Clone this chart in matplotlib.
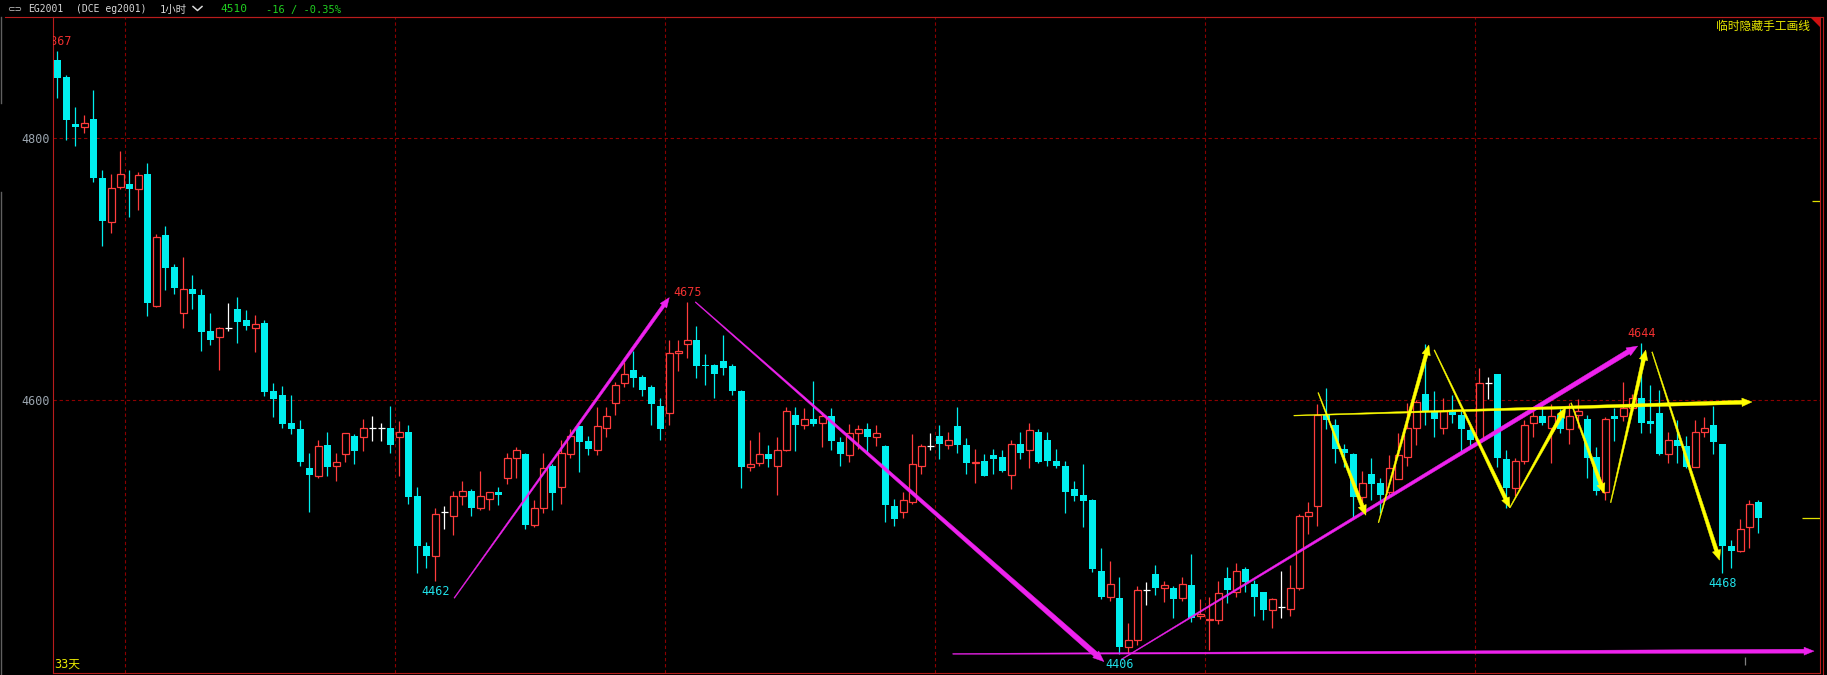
import numpy as np
import matplotlib
matplotlib.use("Agg")
import matplotlib.pyplot as plt
from matplotlib.patches import Polygon, Rectangle
from matplotlib.lines import Line2D

# hourly candles EG2001
opens = [4860, 4847, 4811, 4809, 4815, 4770, 4736, 4763, 4765, 4761,
         4773, 4672, 4726, 4702, 4667, 4685, 4680, 4653, 4648, 4655,
         4670, 4661, 4655, 4659, 4607, 4604, 4583, 4578, 4548, 4542,
         4566, 4550, 4559, 4573, 4572, 4579, 4579, 4579, 4572, 4576,
         4527, 4489, 4481, 4515, 4512, 4527, 4531, 4518, 4525, 4530,
         4541, 4556, 4559, 4505, 4518, 4550, 4534, 4559, 4580, 4569,
         4562, 4579, 4598, 4613, 4623, 4618, 4610, 4596, 4590, 4636,
         4643, 4646, 4627, 4627, 4630, 4626, 4607, 4549, 4552, 4559,
         4550, 4562, 4589, 4581, 4586, 4583, 4588, 4568, 4558, 4575,
         4578, 4572, 4565, 4519, 4515, 4522, 4550, 4565, 4573, 4566,
         4580, 4566, 4552, 4554, 4558, 4557, 4543, 4567, 4562, 4576,
         4570, 4554, 4550, 4532, 4528, 4524, 4470, 4450, 4449, 4412,
         4417, 4455, 4467, 4457, 4457, 4449, 4459, 4435, 4432, 4432,
         4464, 4454, 4471, 4460, 4454, 4440, 4442, 4441, 4457, 4512,
         4519, 4589, 4581, 4563, 4559, 4526, 4544, 4537, 4530, 4540,
         4557, 4579, 4605, 4592, 4579, 4591, 4589, 4577, 4570, 4613,
         4620, 4555, 4533, 4554, 4583, 4588, 4579, 4589, 4578, 4589,
         4586, 4557, 4530, 4588, 4588, 4594, 4602, 4584, 4590, 4559,
         4570, 4565, 4549, 4576, 4581, 4567, 4489, 4485, 4503, 4522]
highs = [4867, 4848, 4824, 4818, 4837, 4776, 4773, 4790, 4776, 4774,
         4781, 4727, 4733, 4704, 4709, 4696, 4685, 4667, 4656, 4674,
         4679, 4669, 4665, 4661, 4613, 4611, 4604, 4585, 4560, 4570,
         4576, 4560, 4575, 4574, 4586, 4588, 4583, 4596, 4584, 4581,
         4534, 4492, 4518, 4519, 4531, 4538, 4532, 4546, 4530, 4534,
         4560, 4564, 4560, 4524, 4560, 4551, 4570, 4578, 4580, 4573,
         4595, 4595, 4614, 4629, 4638, 4619, 4612, 4602, 4646, 4646,
         4675, 4657, 4635, 4628, 4650, 4628, 4608, 4570, 4576, 4566,
         4572, 4595, 4595, 4594, 4615, 4591, 4594, 4572, 4582, 4581,
         4583, 4581, 4566, 4525, 4530, 4574, 4567, 4575, 4581, 4576,
         4595, 4571, 4563, 4559, 4563, 4562, 4570, 4576, 4583, 4578,
         4576, 4563, 4554, 4538, 4551, 4525, 4487, 4477, 4465, 4430,
         4458, 4461, 4474, 4462, 4458, 4465, 4483, 4448, 4450, 4462,
         4473, 4476, 4473, 4463, 4454, 4449, 4470, 4474, 4513, 4522,
         4597, 4609, 4586, 4567, 4560, 4546, 4556, 4541, 4558, 4575,
         4598, 4600, 4643, 4607, 4602, 4604, 4592, 4580, 4625, 4618,
         4620, 4562, 4556, 4585, 4592, 4596, 4597, 4593, 4598, 4601,
         4589, 4564, 4587, 4594, 4614, 4605, 4644, 4612, 4608, 4576,
         4585, 4573, 4585, 4587, 4596, 4567, 4493, 4509, 4524, 4524]
lows = [4831, 4799, 4794, 4804, 4767, 4718, 4728, 4761, 4740, 4745,
        4664, 4671, 4684, 4681, 4655, 4670, 4638, 4642, 4623, 4653,
        4644, 4654, 4637, 4603, 4587, 4579, 4574, 4550, 4515, 4541,
        4542, 4538, 4553, 4551, 4561, 4569, 4569, 4560, 4542, 4521,
        4468, 4472, 4462, 4502, 4497, 4520, 4512, 4516, 4516, 4520,
        4536, 4541, 4502, 4503, 4514, 4516, 4521, 4556, 4545, 4558,
        4558, 4572, 4589, 4610, 4610, 4603, 4581, 4570, 4581, 4622,
        4632, 4617, 4612, 4602, 4619, 4604, 4533, 4546, 4550, 4549,
        4528, 4561, 4561, 4578, 4580, 4564, 4562, 4550, 4553, 4563,
        4560, 4565, 4507, 4504, 4510, 4521, 4544, 4562, 4555, 4563,
        4560, 4544, 4537, 4542, 4544, 4545, 4532, 4555, 4548, 4552,
        4550, 4548, 4514, 4523, 4503, 4469, 4448, 4447, 4406, 4407,
        4413, 4444, 4451, 4446, 4434, 4447, 4431, 4433, 4409, 4429,
        4445, 4450, 4454, 4435, 4432, 4426, 4434, 4435, 4455, 4498,
        4504, 4578, 4552, 4549, 4510, 4518, 4524, 4514, 4527, 4540,
        4550, 4566, 4581, 4572, 4574, 4583, 4561, 4565, 4567, 4601,
        4549, 4518, 4527, 4551, 4572, 4581, 4552, 4575, 4567, 4579,
        4541, 4528, 4524, 4569, 4584, 4592, 4575, 4575, 4558, 4552,
        4552, 4548, 4549, 4572, 4559, 4468, 4472, 4484, 4487, 4499]
closes = [4846, 4814, 4809, 4812, 4770, 4737, 4762, 4773, 4761, 4772,
          4674, 4725, 4701, 4686, 4685, 4681, 4652, 4646, 4655, 4655,
          4660, 4657, 4658, 4606, 4601, 4582, 4578, 4553, 4543, 4565,
          4549, 4553, 4575, 4561, 4579, 4579, 4579, 4566, 4576, 4526,
          4489, 4481, 4513, 4515, 4527, 4531, 4518, 4527, 4530, 4528,
          4556, 4562, 4505, 4518, 4548, 4529, 4560, 4573, 4568, 4563,
          4580, 4588, 4612, 4620, 4617, 4608, 4597, 4578, 4636, 4638,
          4646, 4626, 4626, 4620, 4625, 4607, 4549, 4551, 4559, 4555,
          4562, 4592, 4581, 4586, 4582, 4588, 4569, 4559, 4575, 4578,
          4572, 4575, 4520, 4509, 4524, 4551, 4565, 4565, 4567, 4570,
          4566, 4552, 4553, 4542, 4555, 4546, 4567, 4560, 4577, 4553,
          4554, 4550, 4530, 4527, 4523, 4471, 4450, 4460, 4412, 4417,
          4455, 4455, 4457, 4459, 4448, 4460, 4434, 4437, 4433, 4453,
          4455, 4470, 4461, 4450, 4440, 4448, 4442, 4457, 4512, 4515,
          4589, 4585, 4563, 4560, 4526, 4537, 4536, 4528, 4548, 4558,
          4579, 4599, 4592, 4586, 4592, 4589, 4578, 4570, 4613, 4613,
          4556, 4533, 4554, 4581, 4588, 4583, 4588, 4578, 4588, 4592,
          4556, 4531, 4586, 4586, 4594, 4602, 4583, 4582, 4559, 4570,
          4565, 4549, 4576, 4579, 4568, 4489, 4485, 4502, 4521, 4510]

# extreme points marked with their price (candle index, 'high' / 'low')
marks = [(0, "high"), (42, "low"), (70, "high"), (118, "low"), (176, "high"), (185, "low")]

# hand drawn lines: (x0, y0, x1, y1) in candle index / price
magenta_arrows = [(44.1, 4449, 68.0, 4678.4),
                  (70.9, 4675, 116.3, 4400.5),
                  (118.2, 4402, 175.6, 4641.4),
                  (99.5, 4406.4, 195.2, 4408.5)]
yellow_arrows = [(137.4, 4588.3, 188.3, 4598.7),
                 (140.1, 4605.8, 145.4, 4512.2),
                 (146.8, 4506.6, 152.4, 4642.2),
                 (153.0, 4638.4, 161.4, 4518.0),
                 (161.4, 4518.0, 167.6, 4594.4),
                 (168.2, 4598.0, 171.9, 4528.8),
                 (172.6, 4521.9, 176.5, 4638.4),
                 (177.2, 4636.9, 184.7, 4477.9)]

y_ticks = [4600, 4800]
grid_x = [7.5, 37.5, 67.5, 97.5, 127.5, 157.5]

W, H = 1827, 675
RED = "#ff3c3c"
CYAN = "#00eeee"
FRAME = "#b81c1c"
GRID = "#8c0000"
MAGENTA = "#ee22ee"
YELLOW = "#ffff00"
MONO = ["DejaVu Sans Mono", "Noto Sans CJK SC"]

fig = plt.figure(figsize=(W / 100, H / 100), dpi=100, facecolor="black")
ax = fig.add_axes([53 / W, (H - 673) / H, (1820 - 53) / W, (673 - 17) / H])
ax.set_facecolor("black")
ax.set_xlim(-0.48, 195.86)
ax.set_ylim(4391.8, 4892.6)
ax.set_xticks([])
ax.set_yticks(y_ticks)
ax.set_yticklabels([str(v) for v in y_ticks], color="#9aa4ae",
                   fontsize=8.5, family=MONO)
ax.tick_params(axis="y", length=0, pad=2)
for s in ax.spines.values():
    s.set_color(FRAME)
    s.set_linewidth(0.8)

for v in y_ticks:
    ax.axhline(v, color=GRID, lw=0.8, ls=(0, (3, 2.5)), zorder=0)
for gx in grid_x:
    ax.axvline(gx, color=GRID, lw=0.8, ls=(0, (3, 2.5)), zorder=0)

# candles
bw = 0.78
for i in range(len(opens)):
    o, h, l, c = opens[i], highs[i], lows[i], closes[i]
    if c > o:
        ax.vlines(i, c, h, color=RED, lw=0.9, zorder=2)
        ax.vlines(i, l, o, color=RED, lw=0.9, zorder=2)
        ax.add_patch(Rectangle((i - bw / 2, o), bw, c - o, facecolor="black",
                               edgecolor=RED, lw=0.9, zorder=3))
    elif c < o:
        ax.vlines(i, l, h, color=CYAN, lw=0.9, zorder=2)
        ax.add_patch(Rectangle((i - bw / 2, c), bw, max(o - c, 1.0),
                               facecolor=CYAN, edgecolor="none", zorder=3))
    else:
        ax.vlines(i, l, h, color="white", lw=0.9, zorder=2)
        ax.hlines(o, i - bw / 2, i + bw / 2, color="white", lw=0.9, zorder=3)

# high / low labels
for i, kind in marks:
    if kind == "high":
        ax.annotate(str(highs[i]), xy=(i, highs[i]), xytext=(0, 2), textcoords="offset points",
                    ha="center", va="bottom", color="#f03030", fontsize=8.5, family=MONO,
                    clip_on=True, zorder=6)
    else:
        ax.annotate(str(lows[i]), xy=(i, lows[i]), xytext=(0, -2.5), textcoords="offset points",
                    ha="center", va="top", color="#20e0e8", fontsize=8.5, family=MONO,
                    clip_on=True, zorder=6)


def tapered_arrow(x0, y0, x1, y1, color, w0=0.8, w1=4.5, head_len=10, head_w=8.5):
    t = ax.transData
    p0 = t.transform((x0, y0))
    p1 = t.transform((x1, y1))
    d = p1 - p0
    length = np.hypot(d[0], d[1])
    u = d / length
    n = np.array([-u[1], u[0]])
    base = p1 - u * head_len
    wb = w0 + (w1 - w0) * (length - head_len) / length
    pts = [p0 + n * w0 / 2, base + n * wb / 2, base + n * head_w / 2, p1,
           base - n * head_w / 2, base - n * wb / 2, p0 - n * w0 / 2]
    pts = t.inverted().transform(np.array(pts))
    ax.add_patch(Polygon(pts, closed=True, facecolor=color, edgecolor=color,
                         lw=0.3, zorder=5, clip_on=True))


tapered_arrow(*magenta_arrows[0], MAGENTA, w0=0.8, w1=3.5, head_len=10, head_w=8)
tapered_arrow(*magenta_arrows[1], MAGENTA, w0=0.8, w1=5.5, head_len=11, head_w=9)
tapered_arrow(*magenta_arrows[2], MAGENTA, w0=0.8, w1=5.0, head_len=11, head_w=9)
tapered_arrow(*magenta_arrows[3], MAGENTA, w0=0.8, w1=4.0, head_len=10, head_w=8)
for seg in yellow_arrows:
    tapered_arrow(*seg, YELLOW, w0=0.8, w1=4.0, head_len=10, head_w=8.5)

# price markers on the right edge
ax.hlines(closes[-1], 193.9, 195.86, color="#e0e000", lw=0.9, zorder=4)
ax.hlines(4752, 195.0, 195.86, color="#e0e000", lw=0.9, zorder=4)
ax.vlines(187.5, 4398, 4404, color="#808080", lw=0.9, zorder=4)


def fx(x):
    return x / W


def fy(y):
    return 1 - y / H


def fig_line(xs, ys, **kw):
    fig.add_artist(Line2D([fx(x) for x in xs], [fy(y) for y in ys], **kw))


# frame pieces outside the axes
fig_line([5, 1823], [16.8, 16.8], color=FRAME, lw=0.8)
fig_line([1822.8, 1822.8], [17, 675], color=FRAME, lw=0.8)
fig_line([0.5, 0.5], [17, 103], color="#606060", lw=1)
fig_line([0.5, 0.5], [192, 675], color="#606060", lw=1)
fig.add_artist(Polygon([(fx(1810), fy(17)), (fx(1820), fy(17)), (fx(1820), fy(27))],
                       closed=True, facecolor="#d01010", edgecolor="none"))

# header bar
fig.text(fx(7), fy(12), "⊂⊃", color="#c8c8c8", fontsize=6.5, family="DejaVu Sans")
fig.text(fx(28), fy(12), "EG2001", color="#d8d8d8", fontsize=7, family=MONO)
fig.text(fx(76), fy(12), "(DCE eg2001)", color="#d8d8d8", fontsize=7, family=MONO)
fig.text(fx(160), fy(12.5), "1小时", color="#d8d8d8", fontsize=7.5, family=MONO)
fig_line([193, 197.5, 202], [6.5, 10.5, 6.5], color="#d8d8d8", lw=1.1)
fig.text(fx(220), fy(12.5), "4510", color="#20d020", fontsize=8, family=MONO)
fig.text(fx(266), fy(12.5), "-16 / -0.35%", color="#20d020", fontsize=7.5, family=MONO)

fig.text(fx(1810), fy(26), "临时隐藏手工画线", color="#e8e800", fontsize=8.5,
         family=["Noto Sans CJK SC", "DejaVu Sans"], ha="right", va="center")
fig.text(fx(54), fy(664), "33天", color="#e8e800", fontsize=8.5, family=MONO,
         ha="left", va="center")

fig.savefig("out.png", dpi=100, facecolor="black")
